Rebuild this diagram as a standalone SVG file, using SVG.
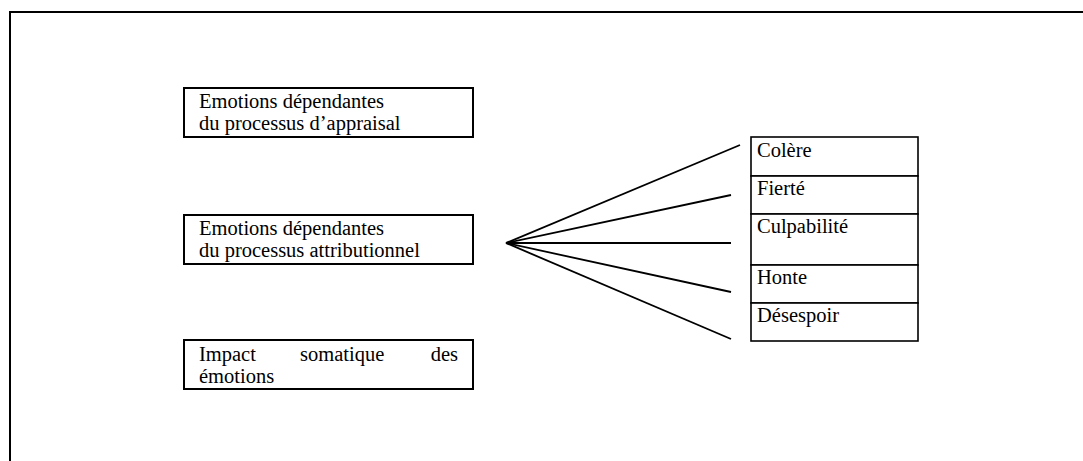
<svg xmlns="http://www.w3.org/2000/svg" width="1083" height="461" viewBox="0 0 1083 461">
  <style>
    .box { fill: #ffffff; stroke: #000000; stroke-width: 2; }
    .cell { fill: #ffffff; stroke: #000000; stroke-width: 1.6; }
    .frame { fill: none; stroke: #000000; stroke-width: 2; }
    .lbl { font-family: "Liberation Serif", "Times New Roman", serif; font-size: 20.5px; fill: #000000; }
    .link { stroke: #000000; stroke-width: 1.8; fill: none; }
  </style>
  <rect width="1083" height="461" fill="#ffffff"/>

  <!-- outer frame: top and left edges only -->
  <path class="frame" d="M10,461 V12 H1083"/>

  <g id="appraisal">
    <rect class="box" x="184" y="88" width="289" height="49"/>
    <text class="lbl" x="199" y="108">Emotions dépendantes</text>
    <text class="lbl" x="199" y="130">du processus d’appraisal</text>
  </g>

  <g id="attributionnel">
    <rect class="box" x="184" y="215" width="289" height="49"/>
    <text class="lbl" x="199" y="235">Emotions dépendantes</text>
    <text class="lbl" x="199" y="257">du processus attributionnel</text>
  </g>

  <g id="somatique">
    <rect class="box" x="184" y="340" width="289" height="49"/>
    <text class="lbl" x="199" y="361">Impact</text>
    <text class="lbl" x="300" y="361">somatique</text>
    <text class="lbl" x="458" y="361" text-anchor="end">des</text>
    <text class="lbl" x="199" y="383">émotions</text>
  </g>

  <g id="colere">
    <rect class="cell" x="751" y="137" width="167" height="39"/>
    <text class="lbl" x="757" y="157">Colère</text>
  </g>
  <g id="fierte">
    <rect class="cell" x="751" y="176" width="167" height="38"/>
    <text class="lbl" x="757" y="195">Fierté</text>
  </g>
  <g id="culpabilite">
    <rect class="cell" x="751" y="214" width="167" height="51"/>
    <text class="lbl" x="757" y="233">Culpabilité</text>
  </g>
  <g id="honte">
    <rect class="cell" x="751" y="265" width="167" height="38"/>
    <text class="lbl" x="757" y="284">Honte</text>
  </g>
  <g id="desespoir">
    <rect class="cell" x="751" y="303" width="167" height="38"/>
    <text class="lbl" x="757" y="322">Désespoir</text>
  </g>

  <g id="connectors">
    <line class="link" x1="506" y1="243" x2="740" y2="145"/>
    <line class="link" x1="506" y1="243" x2="731" y2="195"/>
    <line class="link" x1="506" y1="243" x2="731" y2="243"/>
    <line class="link" x1="506" y1="243" x2="731" y2="292"/>
    <line class="link" x1="506" y1="243" x2="731" y2="339"/>
  </g>
</svg>
